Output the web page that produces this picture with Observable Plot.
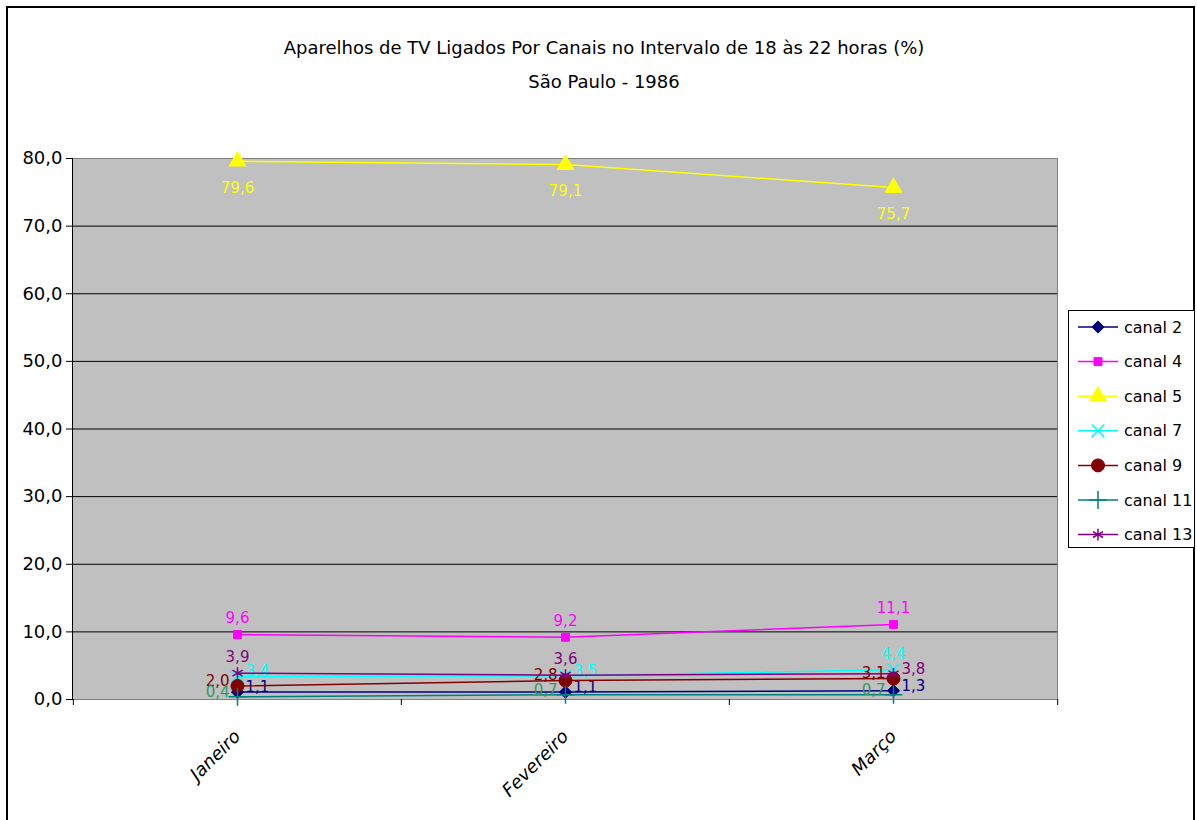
<!DOCTYPE html>
<html><head><meta charset="utf-8">
<script src="https://cdn.jsdelivr.net/npm/d3@7"></script>
<script src="https://cdn.jsdelivr.net/npm/@observablehq/plot@0.6"></script>
<style>
body{margin:0;background:#fff;font-family:"DejaVu Sans",sans-serif;}
#wrap{position:relative;width:1197px;height:820px;overflow:hidden;background:#fff;}
#border{position:absolute;left:6px;top:6px;width:1189px;height:840px;border:2px solid #000;box-sizing:border-box;}
#title{position:absolute;left:10px;width:1188px;top:31px;text-align:center;font-size:18px;line-height:34px;color:#000;}
#chart{position:absolute;left:0;top:0;}
#legend{position:absolute;left:1068px;top:310px;}
</style></head>
<body>
<div id="wrap">
  <div id="border"></div>
  <div id="chart"></div>
  <div id="title">Aparelhos de TV Ligados Por Canais no Intervalo de 18 às 22 horas (%)<br>São Paulo - 1986</div>
  <div id="legend"></div>
</div>
<script>
// ---- data ----
const months = ["Janeiro", "Fevereiro", "Março"];
const series = ["canal 2", "canal 4", "canal 5", "canal 7", "canal 9", "canal 11", "canal 13"];
const canal2  = [1.1, 1.1, 1.3];
const canal4  = [9.6, 9.2, 11.1];
const canal5  = [79.6, 79.1, 75.7];
const canal7  = [3.4, 3.5, 4.4];
const canal9  = [2.0, 2.8, 3.1];
const canal11 = [0.4, 0.7, 0.7];
const canal13 = [3.9, 3.6, 3.8];
const yTicks = [0, 10, 20, 30, 40, 50, 60, 70, 80];

const values = {"canal 2": canal2, "canal 4": canal4, "canal 5": canal5, "canal 7": canal7,
                "canal 9": canal9, "canal 11": canal11, "canal 13": canal13};

// ---- styles ----
const style = {
  "canal 2":  {color: "#000080", label: "#000080", symbol: "diamond2", r: 5.5, fill: "#000080"},
  "canal 4":  {color: "#FF00FF", label: "#FF00FF", symbol: "square", r: 4.5, fill: "#FF00FF"},
  "canal 5":  {color: "#FFFF00", label: "#FFFF00", symbol: "triangle", r: 6.2, fill: "#FFFF00"},
  "canal 7":  {color: "#00FFFF", label: "#00FFFF", symbol: "times", r: 5.8, fill: "none"},
  "canal 9":  {color: "#800000", label: "#800000", symbol: "circle", r: 6.5, fill: "#800000"},
  "canal 11": {color: "#008080", label: "#339966", symbol: "plus", r: 5.8, fill: "none"},
  "canal 13": {color: "#800080", label: "#800080", symbol: "asterisk", r: 5.5, fill: "none"}
};
const labelPos = {
  "canal 2": ["right", "right", "right"],
  "canal 4": ["above", "above", "above"],
  "canal 5": ["below", "below", "below"],
  "canal 7": ["right", "right", "above"],
  "canal 9": ["left", "left", "left"],
  "canal 11": ["left", "left", "left"],
  "canal 13": ["above", "above", "right"]
};
const posOffsets = {
  right: {dx: 8, dy: -5, textAnchor: "start"},
  left:  {dx: -8, dy: -5, textAnchor: "end"},
  above: {dx: 0, dy: -16, textAnchor: "middle"},
  below: {dx: 0, dy: 27, textAnchor: "middle"}
};

const fmt = v => d3.format(".1f")(v).replace(".", ",");

const W = 1197, H = 820;
const mL = 72, mR = 140, mT = 158, mB = 121;
const step = (W - mL - mR) / months.length;

const marks = [
  Plot.frame({fill: "#C0C0C0", stroke: "#808080"}),
  Plot.ruleY(yTicks.filter(t => t > 0 && t < 80), {stroke: "#000", strokeWidth: 1}),
  Plot.frame({anchor: "left", stroke: "#000"}),
  Plot.axisY({ticks: yTicks, tickFormat: fmt, tickSize: 6, tickPadding: 4, fontSize: 18, label: null, fill: "#000"}),
  Plot.axisX({tickSize: 0, tickRotate: -45, tickPadding: 34, fontSize: 18, label: null, fontStyle: "italic"}),
  Plot.axisX({tickSize: 6, tickFormat: () => "", dx: -step / 2, label: null, stroke: "#000"}),
  Plot.axisX({ticks: [months[months.length - 1]], tickSize: 6, tickFormat: () => "", dx: step / 2, label: null})
];

for (const s of series) {
  const st = style[s];
  const rows = months.map((m, i) => ({month: m, value: values[s][i], pos: labelPos[s][i]}));
  marks.push(Plot.line(rows, {x: "month", y: "value", stroke: st.color, strokeWidth: 1.5}));
  marks.push(Plot.dot(rows, {x: "month", y: "value", symbol: st.symbol, r: st.r,
    fill: st.fill, stroke: st.color, strokeWidth: st.fill === "none" ? 1.5 : 1}));
  for (const p of Object.keys(posOffsets)) {
    const sub = rows.filter(d => d.pos === p);
    if (!sub.length) continue;
    marks.push(Plot.text(sub, {x: "month", y: "value", text: d => fmt(d.value),
      fill: st.label, fontSize: 15, ...posOffsets[p]}));
  }
}

const chart = Plot.plot({
  width: W, height: H,
  marginLeft: mL, marginRight: mR, marginTop: mT, marginBottom: mB,
  style: {background: "transparent", fontFamily: "DejaVu Sans, sans-serif", color: "#000"},
  x: {type: "point", domain: months, padding: 0.5, axis: null},
  y: {domain: [0, 80], axis: null},
  marks
});
document.getElementById("chart").appendChild(chart);

// ---- legend ----
const lw = 127, lh = 238;
const lsvg = d3.select("#legend").append("svg").attr("width", lw).attr("height", lh);
lsvg.append("rect").attr("x", 0.5).attr("y", 0.5).attr("width", lw - 1).attr("height", lh - 1)
  .attr("fill", "#fff").attr("stroke", "#000");
const symMap = {diamond2: d3.symbolDiamond2, square: d3.symbolSquare, triangle: d3.symbolTriangle,
  times: d3.symbolTimes, circle: d3.symbolCircle, plus: d3.symbolPlus, asterisk: d3.symbolAsterisk};
series.forEach((s, i) => {
  const st = style[s];
  const y = 17 + i * 34.6;
  const g = lsvg.append("g").attr("transform", `translate(0,${y})`);
  g.append("line").attr("x1", 10).attr("x2", 50).attr("y1", 0).attr("y2", 0)
    .attr("stroke", st.color).attr("stroke-width", 1.5);
  g.append("path").attr("transform", "translate(30,0)")
    .attr("d", d3.symbol(symMap[st.symbol], Math.PI * st.r * st.r)())
    .attr("fill", st.fill).attr("stroke", st.color).attr("stroke-width", st.fill === "none" ? 1.5 : 1);
  g.append("text").attr("x", 56).attr("y", 0).attr("dy", "0.35em")
    .attr("font-size", 16).attr("font-family", "DejaVu Sans, sans-serif").text(s);
});
</script>
</body></html>
